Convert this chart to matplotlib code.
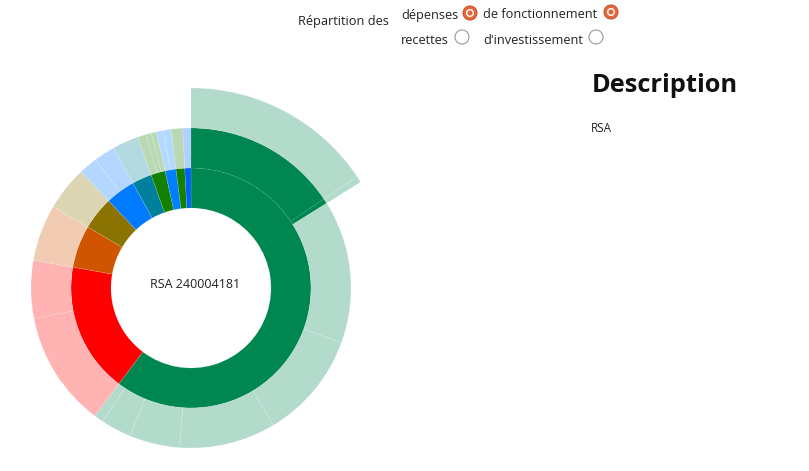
import numpy as np
import matplotlib
matplotlib.use("Agg")
import matplotlib.pyplot as plt
from matplotlib.colors import to_rgb
from matplotlib.patches import Circle

plt.rcParams['font.family'] = ['Open Sans', 'DejaVu Sans']

# répartition des dépenses de fonctionnement (parts, anneau intérieur)
inner_values = [217, 63, 20.6, 16, 14.4, 9.6, 6.9, 5.3, 4.2, 3.0]
inner_colors = ['#008751', '#ff0000', '#d05500', '#8a7300', '#007bff',
                '#00809c', '#138000', '#0080ff', '#138000', '#0060ff']
# sous-postes (anneau extérieur), un groupe par poste
outer_values = [[56.2, 1.8, 52, 39, 35, 18.5, 11, 3.5],
                [42, 21],
                [20.6],
                [16],
                [6.8, 7.6],
                [9.6],
                [3.0, 2.0, 1.9],
                [2.5, 2.8],
                [4.2],
                [3.0]]
# poste survolé : (index parent, index des sous-postes)
hover_parent = 0
hover_children = [0, 1]
center_label = 'RSA 240004181'

W, H = 809, 471
cx, cy, R = 191, 288, 210


def light(c, a=0.3):
    r = np.array(to_rgb(c))
    return tuple(a * r + (1 - a))


fig = plt.figure(figsize=(W / 100, H / 100), dpi=100)

# fond / texte en pixels
bg = fig.add_axes([0, 0, 1, 1])
bg.set_xlim(0, W)
bg.set_ylim(H, 0)
bg.axis('off')

ax = fig.add_axes([(cx - R) / W, 1 - (cy + R) / H, 2 * R / W, 2 * R / H])

edge = dict(edgecolor=(1, 1, 1, 0.2), linewidth=0.4)

# anneau intérieur
ax.pie(inner_values, radius=120, colors=inner_colors, startangle=90,
       counterclock=False, wedgeprops=dict(width=40, **edge))

# anneau extérieur
flat_vals, flat_cols, flat_hover = [], [], []
for i, group in enumerate(outer_values):
    for j, v in enumerate(group):
        flat_vals.append(v)
        is_hover = (i == hover_parent and j in hover_children)
        flat_cols.append(inner_colors[i] if is_hover else light(inner_colors[i]))
        flat_hover.append(is_hover)

wedges, _ = ax.pie(flat_vals, radius=160, colors=flat_cols, startangle=90,
                   counterclock=False, wedgeprops=dict(width=40, **edge))
for w, h in zip(wedges, flat_hover):
    if h:
        w.set_edgecolor('none')

# segment survolé, déporté vers l'extérieur
hover_cols = [light(inner_colors[hover_parent])] * len(flat_vals)
wedges, _ = ax.pie(flat_vals, radius=200, colors=hover_cols, startangle=90,
                   counterclock=False, wedgeprops=dict(width=40, **edge))
for w, h in zip(wedges, flat_hover):
    w.set_visible(h)

ax.text(4, 4, center_label, ha='center', va='center', fontsize=9, color='#222222')
ax.set_xlim(-R, R)
ax.set_ylim(-R, R)
ax.set_aspect('equal')
ax.axis('off')

# en-tête
txt = dict(fontsize=9.2, color='#222222', va='center')
bg.text(298, 22, 'Répartition des', ha='left', **txt)
bg.text(401, 15, 'dépenses', ha='left', **txt)
bg.text(483, 15, 'de fonctionnement', ha='left', **txt)
bg.text(401, 40, 'recettes', ha='left', **txt)
bg.text(483, 40, "d'investissement", ha='left', **txt)


def radio(x, y, checked):
    if checked:
        bg.add_patch(Circle((x, y), 7, fc='#e4683a', ec='#c9552a', lw=0.8))
        bg.add_patch(Circle((x, y), 4, fc='white', ec='none'))
        bg.add_patch(Circle((x, y), 2.6, fc='#e06a3c', ec='none'))
    else:
        bg.add_patch(Circle((x, y), 7, fc='white', ec='#9a9a9a', lw=0.8))


radio(470, 13, True)
radio(611, 12, True)
radio(462, 37, False)
radio(596, 37, False)

bg.text(592, 85, 'Description', fontsize=18.3, fontweight='bold',
        color='#111111', ha='left', va='center')
bg.text(591, 128, 'RSA', fontsize=8.5, color='#222222', ha='left', va='center')

fig.savefig('out.png', dpi=100)
